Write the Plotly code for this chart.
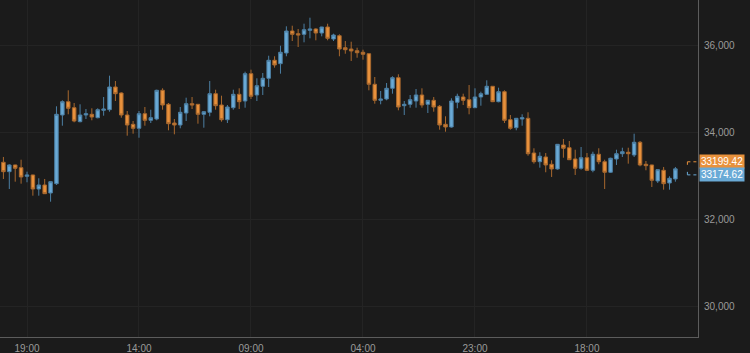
import pandas as pd
import plotly.graph_objects as go

# hourly candles, first candle at 15:00
start_time = "2021-05-10 15:00"
open_ = [33326, 33110, 33264, 33202, 33004, 33034, 32712, 32804, 32620, 32834,
         34413, 34719, 34581, 34259, 34413, 34429, 34351, 34521, 34535, 35057,
         34919, 34413, 34199, 34107, 34443, 34291, 34321, 34981, 34659, 34229,
         34183, 34459, 34673, 34659, 34429, 34475, 34903, 34643, 34305, 34581,
         34889, 34735, 35363, 34873, 35073, 35257, 35671, 35593, 35839, 36344,
         36282, 36268, 36360, 36390, 36298, 36436, 36160, 36236, 35960, 35930,
         35891, 35855, 35822, 35119, 34751, 34781, 35027, 35271, 34627, 34659,
         34735, 34873, 34659, 34751, 34613, 34199, 34137, 34705, 34827, 34765,
         34581, 34827, 34889, 35073, 34719, 34949, 34305, 34121, 34321, 34337,
         33539, 33339, 33448, 33280, 33172, 33723, 33661, 33402, 33188, 33431,
         33142, 33510, 33339, 33096, 33402, 33523, 33556, 33494, 33786, 33280,
         33264, 32896, 33142, 32850, 32942]
high = [33448, 33280, 33270, 33385, 33110, 33040, 32958, 32942, 32886, 34613,
        34751, 34981, 34689, 34659, 34551, 34567, 34567, 34827, 35317, 35195,
        34935, 34505, 34275, 34505, 34597, 34535, 34995, 35027, 34689, 34321,
        34597, 34811, 34827, 34665, 34505, 35195, 34995, 34857, 34643, 34995,
        35027, 35409, 35455, 35257, 35379, 35776, 35763, 36006, 36452, 36466,
        36390, 36512, 36650, 36406, 36440, 36512, 36282, 36268, 36114, 36098,
        35960, 35914, 35830, 35287, 34965, 35149, 35303, 35349, 34735, 34873,
        35011, 35027, 34760, 34827, 34643, 34383, 34797, 34903, 34903, 35103,
        35027, 34949, 35211, 35080, 35041, 34981, 34413, 34345, 34429, 34475,
        33648, 33556, 33539, 33372, 33745, 33861, 33815, 33615, 33677, 33539,
        33569, 33648, 33385, 33431, 33615, 33661, 33661, 33983, 33815, 33356,
        33270, 33160, 33218, 33004, 33218]
low = [32942, 32712, 32880, 32834, 32866, 32558, 32558, 32598, 32420, 32804,
       34167, 34429, 34245, 34245, 34321, 34291, 34337, 34397, 34489, 34735,
       34351, 33937, 33983, 33891, 34167, 34229, 34291, 34535, 34061, 33969,
       34107, 34275, 34551, 34213, 34121, 34383, 34535, 34259, 34229, 34535,
       34551, 34581, 34781, 34735, 34873, 35057, 35501, 35363, 35763, 36114,
       35976, 36084, 36176, 36130, 36222, 36130, 36114, 35763, 35822, 35655,
       35730, 35685, 34981, 34673, 34659, 34751, 34903, 34521, 34413, 34581,
       34581, 34581, 34459, 34489, 34075, 34029, 34121, 34567, 34643, 34429,
       34575, 34627, 34873, 34710, 34705, 34229, 34075, 34061, 34167, 33477,
       33294, 33202, 33096, 32988, 33156, 33431, 33380, 33034, 33156, 33126,
       33096, 33280, 32712, 33080, 33264, 33448, 33294, 33448, 33234, 33142,
       32758, 32850, 32696, 32696, 32880]
close = [33110, 33264, 33188, 32988, 33034, 32712, 32804, 32604, 32880, 34429,
         34719, 34567, 34275, 34413, 34443, 34367, 34535, 34551, 35057, 34903,
         34413, 34183, 34107, 34443, 34291, 34351, 34981, 34643, 34213, 34183,
         34475, 34673, 34643, 34429, 34489, 34903, 34627, 34305, 34597, 34889,
         34719, 35363, 34843, 35087, 35257, 35671, 35563, 35855, 36344, 36268,
         36252, 36374, 36390, 36298, 36436, 36176, 36252, 35930, 35914, 35885,
         35845, 35809, 35119, 34751, 34781, 35027, 35271, 34597, 34659, 34765,
         34873, 34643, 34751, 34597, 34183, 34137, 34735, 34843, 34751, 34581,
         34827, 34903, 35073, 34719, 34949, 34291, 34107, 34337, 34351, 33523,
         33339, 33464, 33264, 33172, 33739, 33648, 33385, 33188, 33431, 33142,
         33510, 33339, 33096, 33418, 33523, 33569, 33523, 33786, 33264, 33248,
         32912, 33156, 32834, 32958, 33174.62]

y_ticks = [30000, 32000, 34000, 36000]
last_prices = [33199.42, 33174.62]
last_colors = ["#e8913c", "#6aaad6"]

times = pd.date_range(start_time, periods=len(close), freq="h")

BG = "#1b1b1b"
UP_FILL, UP_LINE = "#6aaad6", "#4c7fa3"
DN_FILL, DN_LINE = "#e8913c", "#a8682e"

fig = go.Figure()
fig.add_trace(go.Candlestick(
    x=times, open=open_, high=high, low=low, close=close,
    increasing=dict(fillcolor=UP_FILL, line=dict(color=UP_LINE, width=1)),
    decreasing=dict(fillcolor=DN_FILL, line=dict(color=DN_LINE, width=1)),
    whiskerwidth=0, showlegend=False, hoverinfo="skip",
))

x_left = pd.Timestamp("2021-05-10 14:25:12")
x_right = pd.Timestamp("2021-05-15 12:50:00")

fig.update_layout(
    width=750, height=353,
    margin=dict(l=0, r=52, t=0, b=16),
    paper_bgcolor=BG, plot_bgcolor=BG,
    boxgap=0.15,
    font=dict(family="Liberation Sans, Arial, sans-serif", size=10, color="#9a9a9a"),
    xaxis=dict(
        type="date", range=[x_left, x_right],
        tick0="2021-05-10 19:00", dtick=19 * 3600 * 1000, tickformat="%H:%M",
        showgrid=True, gridcolor="#242424", gridwidth=1,
        showline=True, linecolor="#5c5c5c", linewidth=1,
        ticks="outside", ticklen=2, tickcolor=BG,
        rangeslider=dict(visible=False), zeroline=False,
        tickfont=dict(size=10, color="#9a9a9a"),
    ),
    yaxis=dict(
        side="right", range=[29309, 37057],
        tickvals=y_ticks, tickformat=",",
        showgrid=True, gridcolor="#242424", gridwidth=1,
        showline=True, linecolor="#5c5c5c", linewidth=1,
        ticks="outside", ticklen=3, tickcolor=BG, zeroline=False,
        tickfont=dict(size=10, color="#9a9a9a"),
    ),
)

# last price labels (offset apart so they don't overlap)
shifts = [6, -6]
for price, col, sh in zip(last_prices, last_colors, shifts):
    fig.add_annotation(
        x=1, xref="paper", y=price, yref="y", xanchor="left", yanchor="middle",
        text=f"{price:.2f}", showarrow=False, xshift=1, yshift=sh,
        bgcolor=col, borderpad=1,
        font=dict(color="white", size=10, family="Liberation Sans, Arial, sans-serif"),
    )
    # dashed connector lines
    fig.add_shape(
        type="line", xref="x", yref="y", xsizemode="pixel", ysizemode="pixel",
        xanchor=times[-1], yanchor=price, x0=12, x1=23, y0=sh, y1=sh,
        line=dict(color=col, width=1, dash="3px,3px"),
    )
    fig.add_shape(
        type="line", xref="x", yref="y", xsizemode="pixel", ysizemode="pixel",
        xanchor=times[-1], yanchor=price, x0=12, x1=12, y0=sh, y1=0,
        line=dict(color=col, width=1, dash="3px,3px"),
    )

fig.write_html("out.html")
